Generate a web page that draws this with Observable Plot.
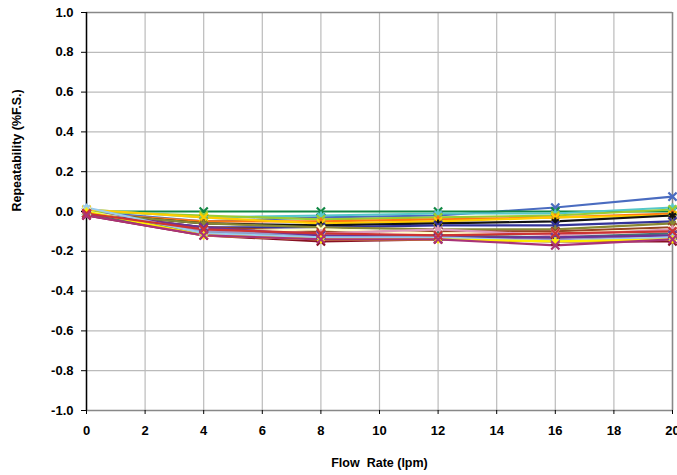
<!DOCTYPE html>
<html>
<head>
<meta charset="utf-8">
<script src="https://cdn.jsdelivr.net/npm/d3@7"></script>
<script src="https://cdn.jsdelivr.net/npm/@observablehq/plot@0.6"></script>
<style>
  html, body { margin: 0; padding: 0; background: #fff; }
  svg { font-family: "Liberation Sans", Arial, sans-serif; }
</style>
</head>
<body>
<div id="chart"></div>
<script>
const flowRates = [0, 4, 8, 12, 16, 20];
const xTicks = [0, 2, 4, 6, 8, 10, 12, 14, 16, 18, 20];
const yTicks = [-1.0, -0.8, -0.6, -0.4, -0.2, 0.0, 0.2, 0.4, 0.6, 0.8, 1.0];

const seriesNames = ["S1","S2","S3","S4","S5","S6","S7","S8","S9","S10","S11","S12","S13","S14","S15","S16","S17","S18","S19","S20"];
const seriesColors = ["#4a6cc0","#118844","#55c8c8","#99cc33","#ff7711","#ffcc00","#111111","#333399","#888833","#994422","#ffffcc","#dd99bb","#9999cc","#447777","#6a3399","#881122","#aa3377","#99ccee","#ffee00","#cc3333"];
const seriesSymbols = ["times","times","asterisk","times","asterisk","times","asterisk","times","asterisk","times","times","asterisk","times","asterisk","times","times","asterisk","asterisk","times","times"];
const seriesValues = [
  [ 0.00, -0.05, -0.03, -0.02,  0.02,  0.075],
  [ 0.00,  0.00,  0.00,  0.00,  0.00,  0.00],
  [ 0.01, -0.03, -0.02, -0.01, -0.01,  0.02],
  [ 0.00, -0.02, -0.04, -0.03, -0.02,  0.01],
  [-0.01, -0.05, -0.05, -0.04, -0.03, -0.01],
  [ 0.01, -0.03, -0.06, -0.05, -0.03, -0.02],
  [-0.01, -0.06, -0.07, -0.06, -0.05, -0.02],
  [-0.01, -0.08, -0.08, -0.07, -0.07, -0.05],
  [-0.01, -0.06, -0.08, -0.09, -0.09, -0.06],
  [-0.01, -0.08, -0.10, -0.10, -0.10, -0.08],
  [ 0.00, -0.10, -0.09, -0.11, -0.11, -0.09],
  [-0.01, -0.09, -0.11, -0.09, -0.12, -0.09],
  [-0.01, -0.10, -0.12, -0.12, -0.14, -0.12],
  [-0.01, -0.11, -0.13, -0.12, -0.13, -0.11],
  [-0.01, -0.08, -0.12, -0.13, -0.13, -0.12],
  [-0.02, -0.12, -0.15, -0.14, -0.15, -0.15],
  [ 0.02, -0.11, -0.13, -0.13, -0.15, -0.13],
  [ 0.00, -0.12, -0.14, -0.14, -0.15, -0.14],
  [-0.01, -0.09, -0.11, -0.12, -0.11, -0.10],
  [-0.02, -0.12, -0.14, -0.14, -0.17, -0.14]
];
// reorder colours to match value rows above
const seriesColorsOrdered = ["#4a6cc0","#118844","#55c8c8","#99cc33","#ff7711","#ffcc00","#111111","#333399","#888833","#994422","#ffffcc","#dd99bb","#9999cc","#447777","#6a3399","#881122","#99ccee","#ffee00","#cc3333","#aa3377"];

const rows = [];
seriesNames.forEach((name, i) => {
  seriesValues[i].forEach((v, j) => {
    rows.push({series: name, color: seriesColorsOrdered[i], symbol: seriesSymbols[i], x: flowRates[j], y: v});
  });
});

const chart = Plot.plot({
  width: 677,
  height: 475,
  marginLeft: 86,
  marginRight: 5,
  marginTop: 12,
  marginBottom: 65,
  style: {fontFamily: "Liberation Sans, Arial, sans-serif", fontWeight: "bold", fontSize: "13px", color: "#000", overflow: "visible"},
  x: {domain: [0, 20]},
  y: {domain: [-1, 1]},
  marks: [
    Plot.gridX(xTicks, {stroke: "#bbbbbb", strokeOpacity: 1, strokeWidth: 1.2}),
    Plot.gridY(yTicks, {stroke: "#bbbbbb", strokeOpacity: 1, strokeWidth: 1.2}),
    Plot.ruleY([1], {stroke: "#888888", strokeWidth: 1.5}),
    Plot.ruleX([20], {stroke: "#888888", strokeWidth: 1.5}),
    Plot.ruleY([-1], {stroke: "#888888", strokeWidth: 1.5}),
    Plot.axisY(yTicks, {tickFormat: d => d.toFixed(1), tickSize: 5, tickPadding: 8, fontWeight: "bold", fontSize: 13, label: null}),
    Plot.axisX(xTicks, {tickSize: 4, tickPadding: 11, fontWeight: "bold", fontSize: 13, label: null}),
    Plot.ruleX([0], {stroke: "#000", strokeWidth: 1.5}),
    Plot.line(rows, {x: "x", y: "y", z: "series", stroke: "color", strokeWidth: 2.2}),
    Plot.dot(rows, {x: "x", y: "y", symbol: "symbol", stroke: "color", r: 3.8, strokeWidth: 2.2}),
    Plot.text(["Flow  Rate (lpm)"], {frameAnchor: "bottom", dy: 56, fontWeight: "bold", fontSize: 12.5, fill: "#000"}),
    Plot.text(["Repeatability (%F.S.)"], {frameAnchor: "left", dx: -70, rotate: -90, fontWeight: "bold", fontSize: 12.5, fill: "#000"})
  ]
});
document.getElementById("chart").appendChild(chart);
</script>
</body>
</html>
